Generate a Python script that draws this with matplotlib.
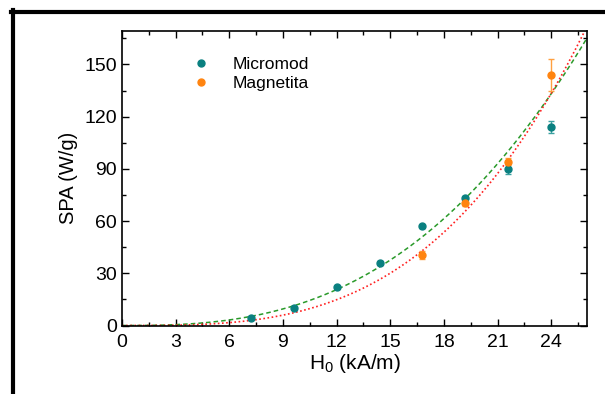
import numpy as np
import matplotlib
matplotlib.use("Agg")
import matplotlib.pyplot as plt
from matplotlib.lines import Line2D
from matplotlib.ticker import MultipleLocator

plt.rcParams['font.family'] = ['Liberation Sans', 'DejaVu Sans']
plt.rcParams['mathtext.fontset'] = 'custom'
plt.rcParams['mathtext.rm'] = 'Liberation Sans'
plt.rcParams['mathtext.it'] = 'Liberation Sans'

# Micromod data
h_micro = [7.2, 9.6, 12.0, 14.4, 16.8, 19.2, 21.6, 24.0]
spa_micro = [4.5, 10.0, 22.0, 36.0, 57.0, 73.0, 90.0, 114.0]
err_micro = [0.8, 0.8, 0.8, 1.0, 1.0, 1.5, 3.0, 3.5]

# Magnetita data
h_mag = [16.8, 19.2, 21.6, 24.0]
spa_mag = [40.5, 70.5, 94.0, 144.0]
err_mag = [2.5, 2.0, 2.0, 9.0]

# power-law fits  SPA = a * H^n
fit_micro = (0.0258, 2.69)
fit_mag = (0.00562, 3.17)

teal = '#0a8080'
orange = '#ff8410'

fig = plt.figure(figsize=(6.05, 3.94), dpi=100)
ax = fig.add_axes([122/605, 1 - 325.5/394, 465/605, 295/394])

hh = np.linspace(0, 26, 300)
ax.plot(hh, fit_micro[0] * hh**fit_micro[1], ls=(0, (3, 2)), color='#2a9a2a', lw=1.1)
ax.plot(hh, fit_mag[0] * hh**fit_mag[1], ls=(0, (1, 1.5)), color='#ff2020', lw=1.2)

ax.errorbar(h_micro, spa_micro, yerr=err_micro, fmt='o', ms=5, color=teal,
            ecolor='#3aa0a0', elinewidth=1, capsize=2.5, zorder=3)
ax.errorbar(h_mag, spa_mag, yerr=err_mag, fmt='o', ms=5, color=orange,
            ecolor='#ffa040', elinewidth=1, capsize=2.5, zorder=3)

ax.set_xlim(0, 26)
ax.set_ylim(0, 169.5)
ax.xaxis.set_major_locator(MultipleLocator(3))
ax.xaxis.set_minor_locator(MultipleLocator(1.5))
ax.yaxis.set_major_locator(MultipleLocator(30))
ax.yaxis.set_minor_locator(MultipleLocator(15))
ax.tick_params(which='both', direction='in', top=True, right=True, labelsize=14, width=1)
ax.tick_params(which='major', length=5)
ax.tick_params(which='minor', length=3)
ax.tick_params(axis='x', pad=6)
for s in ax.spines.values():
    s.set_linewidth(1.2)

ax.set_xlabel('H$_0$ (kA/m)', fontsize=15, labelpad=1)
ax.set_ylabel('SPA (W/g)', fontsize=14.5, labelpad=5)

handles = [Line2D([], [], ls='none', marker='o', ms=5, color=teal),
           Line2D([], [], ls='none', marker='o', ms=5, color=orange)]
ax.legend(handles, ['Micromod', 'Magnetita'], loc='upper left', frameon=False,
          fontsize=12.5, bbox_to_anchor=(0.1, 0.965), handletextpad=0.8, labelspacing=0.25)

# outer frame lines
fig.add_artist(Line2D([12.5/605, 12.5/605], [0, 1 - 10/394], color='black', lw=3,
                      transform=fig.transFigure))
fig.add_artist(Line2D([11/605, 1], [1 - 11.5/394, 1 - 11.5/394], color='black', lw=3,
                      transform=fig.transFigure))

fig.savefig('out.png', dpi=100)
